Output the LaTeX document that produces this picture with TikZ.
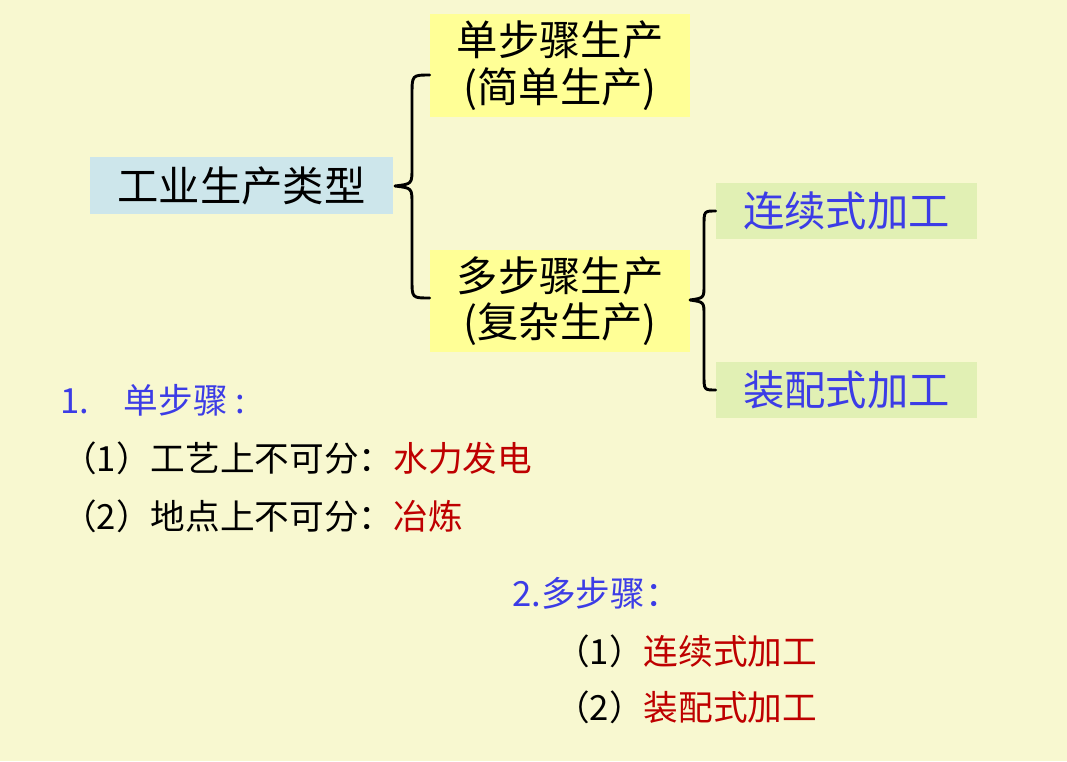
\documentclass[tikz,border=0pt]{standalone}
\usepackage{fontspec}
\setmainfont{Noto Sans CJK SC}
\definecolor{bg}{RGB}{248,248,208}
\definecolor{bluebox}{RGB}{205,230,235}
\definecolor{yelbox}{RGB}{255,255,150}
\definecolor{grnbox}{RGB}{225,240,180}
\definecolor{txtblue}{RGB}{60,60,230}
\definecolor{txtred}{RGB}{190,0,0}
\tikzset{
 box/.style={inner sep=0pt,align=center,font=\fontsize{31}{35}\selectfont},
 lbl/.style={anchor=west,inner sep=0pt,font=\fontsize{26}{30}\selectfont},
 brc/.style={line width=2.2pt,line cap=round,line join=round}
}
\begin{document}
\begin{tikzpicture}[x=0.75pt,y=-0.75pt]
\fill[bg] (0,0) rectangle (1067,761);
\useasboundingbox (0,0) rectangle (1067,761);
\node[box,fill=bluebox,minimum width=303*0.75pt,minimum height=57*0.75pt] (main) at (241.5,185.5) {工业生产类型};
\node[box,fill=yelbox,minimum width=260*0.75pt,minimum height=103*0.75pt] (single) at (560,65.5) {单步骤生产\\(简单生产)};
\node[box,fill=yelbox,minimum width=260*0.75pt,minimum height=102*0.75pt] (multi) at (560,301) {多步骤生产\\(复杂生产)};
\node[box,fill=grnbox,text=txtblue,minimum width=261*0.75pt,minimum height=56*0.75pt] (cont) at (846.5,211) {连续式加工};
\node[box,fill=grnbox,text=txtblue,minimum width=261*0.75pt,minimum height=56*0.75pt] (asm) at (846.5,390) {装配式加工};
% brace 1
\coordinate (t1) at (395,186);
\draw[brc] (single.west|-0,75) .. controls (412,75) .. (412,95) -- (412,168) .. controls (412,184) .. (t1)
  .. controls (412,188) .. (412,204) -- (412,280) .. controls (412,298) .. (multi.west|-0,298);
% brace 2
\coordinate (t2) at (690,300);
\draw[brc] (cont.west) .. controls (704,211) .. (704,226) -- (704,285) .. controls (704,298) .. (t2)
  .. controls (704,302) .. (704,315) -- (704,375) .. controls (704,390) .. (asm.west);
\node[lbl,text=txtblue] (l1) at (60,400) {1.\quad 单步骤 :};
\node[lbl] (l2) at (62,458) {（1）工艺上不可分：\textcolor{txtred}{水力发电}};
\node[lbl] (l3) at (62,516) {（2）地点上不可分：\textcolor{txtred}{冶炼}};
\node[lbl,text=txtblue] (l4) at (512,593) {2.多步骤：};
\node[lbl] (l5) at (555,651) {（1）\textcolor{txtred}{连续式加工}};
\node[lbl] (l6) at (555,707) {（2）\textcolor{txtred}{装配式加工}};
\end{tikzpicture}
\end{document}
